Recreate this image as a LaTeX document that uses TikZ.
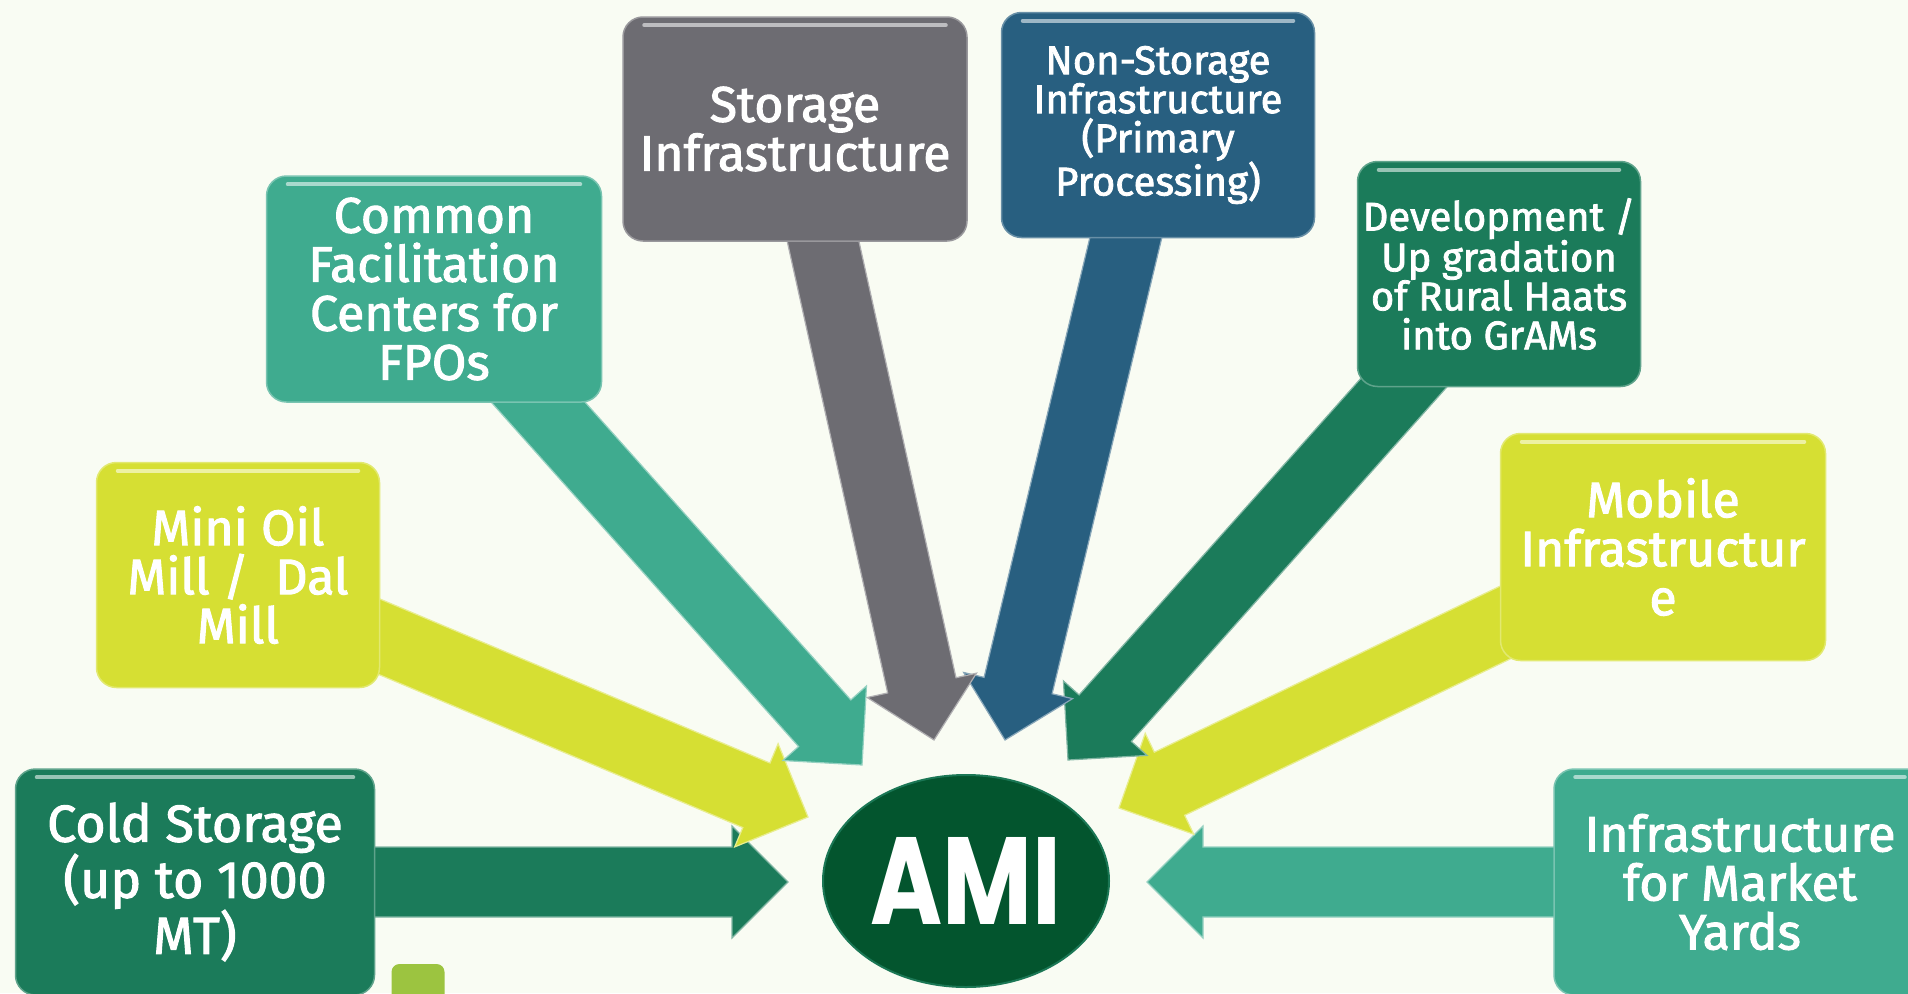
\documentclass[tikz,border=0pt]{standalone}
\usepackage{fontspec}
\usepackage{graphicx}
\usetikzlibrary{calc,backgrounds,shapes.geometric}
\newfontfamily\boxfont{Fira Sans}[FakeBold=2]
\newfontfamily\amifont{Poppins}
\definecolor{bgc}{RGB}{249,252,243}
\definecolor{dkgreen}{RGB}{27,123,90}
\definecolor{limec}{RGB}{214,223,51}
\definecolor{tealc}{RGB}{63,171,143}
\definecolor{grayc}{RGB}{109,108,114}
\definecolor{bluec}{RGB}{40,95,128}
\definecolor{amic}{RGB}{3,85,46}
\definecolor{sqc}{RGB}{156,196,64}
\newcommand\blockarr[3]{%
  \coordinate (ba-s) at ($(#1)!-40pt!(#2)$);
  \coordinate (ba-b) at ($(#2)!56pt!(#1)$);
  \fill[#3, draw=#3!55!white, line width=1.2pt, line join=miter]
    ($(ba-s)!35pt!90:(#2)$) -- ($(ba-b)!35pt!90:(#2)$) -- ($(ba-b)!56pt!90:(#2)$)
    -- (#2) -- ($(ba-b)!56pt!-90:(#2)$) -- ($(ba-b)!35pt!-90:(#2)$)
    -- ($(ba-s)!35pt!-90:(#2)$) -- cycle;}
\newcommand\shine[2]{%
  \draw[#2!45!white, line width=4pt, line cap=round]
    ([xshift=22pt,yshift=-9pt]#1.north west) -- ([xshift=-22pt,yshift=-9pt]#1.north east);}
\tikzset{
  box/.style={rounded corners=20pt, inner sep=0pt, align=center, text=white,
    draw=#1!70!white, line width=1.5pt, fill=#1},
  bigtext/.style={font=\boxfont\fontsize{50}{49}\selectfont},
  smalltext/.style={font=\boxfont\fontsize{40}{39}\selectfont},
}
\begin{document}
\begin{tikzpicture}[x=1pt,y=-1pt]
\useasboundingbox (0,0) rectangle (1908,993);
% boxes
\node[box=dkgreen, font=\boxfont\fontsize{52}{53}\selectfont, minimum width=359pt, minimum height=226pt] (cold) at (195,882) {Cold Storage\\(up to 1000\\MT)};
\node[box=limec, bigtext, minimum width=283pt, minimum height=225pt] (mini) at (238,575) {Mini Oil\\Mill /~~Dal\\Mill};
\node[box=tealc, bigtext, minimum width=335pt, minimum height=226pt] (common) at (434,289) {Common\\Facilitation\\Centers for\\FPOs};
\node[box=grayc, bigtext, minimum width=344pt, minimum height=224pt] (storage) at (795,129) {Storage\\Infrastructure};
\node[box=bluec, smalltext, minimum width=313pt, minimum height=225pt] (nonstorage) at (1158,125) {Non-Storage\\Infrastructure\\(Primary\\Processing)};
\node[box=dkgreen, smalltext, minimum width=283pt, minimum height=225pt] (dev) at (1499,274) {Development /\\Up gradation\\of Rural Haats\\into GrAMs};
\node[box=limec, bigtext, minimum width=325pt, minimum height=227pt] (mobile) at (1663,547) {Mobile\\Infrastructur\\e};
\node[box=tealc, bigtext, minimum width=372pt, minimum height=226pt] (market) at (1740,882) {Infrastructure\\for Market\\Yards};
\shine{cold}{dkgreen}
\shine{mini}{limec}
\shine{common}{tealc}
\shine{storage}{grayc}
\shine{nonstorage}{bluec}
\shine{dev}{dkgreen}
\shine{mobile}{limec}
\shine{market}{tealc}
% hub
\node[ellipse, fill=amic, draw=amic!60!tealc, line width=2pt, minimum width=286pt, minimum height=212pt, text=white, inner sep=0pt] (ami) at (966,881) {\scalebox{0.79}[1]{\amifont\bfseries\fontsize{124}{124}\selectfont AMI}};
\node[fill=sqc, rounded corners=8pt, minimum width=53pt, minimum height=44pt, inner sep=0pt] (sq) at (418,986) {};
% arrow ends
\coordinate (cold-s) at (374,882);   \coordinate (cold-t) at (788,882);
\coordinate (mini-s) at (380,637);   \coordinate (mini-t) at (808,817);
\coordinate (common-s) at (538,402); \coordinate (common-t) at (862,765);
\coordinate (storage-s) at (823,241); \coordinate (storage-t) at (934,740);
\coordinate (non-s) at (1126,237);   \coordinate (non-t) at (1005,740);
\coordinate (dev-s) at (1400,387);   \coordinate (dev-t) at (1068,760);
\coordinate (mobile-s) at (1500,625); \coordinate (mobile-t) at (1119,808);
\coordinate (market-s) at (1554,882); \coordinate (market-t) at (1147,882);
\begin{pgfonlayer}{background}
\fill[bgc] (0,0) rectangle (1908,993);
\blockarr{market-s}{market-t}{tealc}
\blockarr{mobile-s}{mobile-t}{limec}
\blockarr{dev-s}{dev-t}{dkgreen}
\blockarr{non-s}{non-t}{bluec}
\blockarr{storage-s}{storage-t}{grayc}
\blockarr{cold-s}{cold-t}{dkgreen}
\blockarr{mini-s}{mini-t}{limec}
\blockarr{common-s}{common-t}{tealc}
\end{pgfonlayer}
\end{tikzpicture}
\end{document}
